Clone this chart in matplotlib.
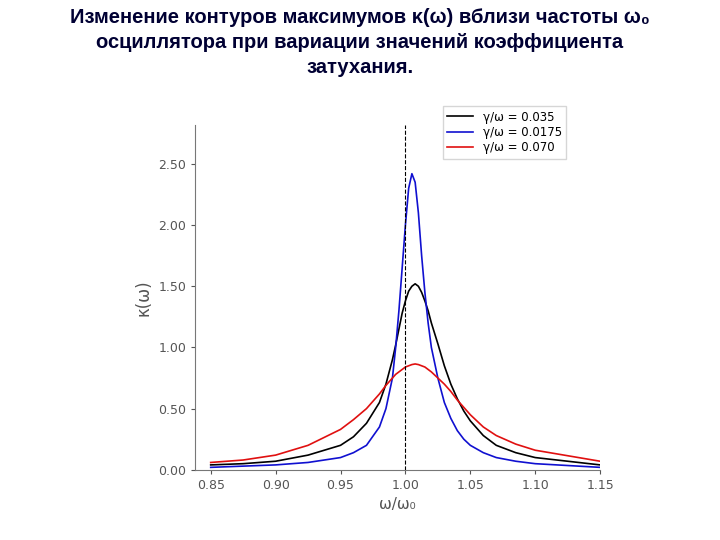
import matplotlib
matplotlib.use("Agg")
import matplotlib.pyplot as plt

# values
freq = [0.85, 0.875, 0.90, 0.925, 0.95, 0.96, 0.97, 0.98, 0.985, 0.99, 0.9925,
        0.995, 0.9975, 1.0, 1.0025, 1.005, 1.0075, 1.01, 1.0125, 1.015, 1.0175,
        1.02, 1.025, 1.03, 1.035, 1.04, 1.045, 1.05, 1.06, 1.07, 1.085, 1.10, 1.15]
kappa_035 = [0.04, 0.05, 0.07, 0.12, 0.20, 0.27, 0.38, 0.55, 0.70, 0.90, 1.02,
             1.15, 1.28, 1.38, 1.46, 1.50, 1.52, 1.50, 1.45, 1.38, 1.30,
             1.20, 1.03, 0.85, 0.70, 0.58, 0.48, 0.40, 0.28, 0.20, 0.14, 0.10, 0.04]
kappa_0175 = [0.02, 0.03, 0.04, 0.06, 0.10, 0.14, 0.20, 0.35, 0.50, 0.75, 1.00,
              1.30, 1.65, 2.00, 2.30, 2.42, 2.35, 2.10, 1.75, 1.45, 1.20,
              1.00, 0.75, 0.55, 0.42, 0.32, 0.25, 0.20, 0.14, 0.10, 0.07, 0.05, 0.02]
kappa_070 = [0.06, 0.08, 0.12, 0.20, 0.33, 0.41, 0.50, 0.62, 0.69, 0.75, 0.78,
             0.80, 0.82, 0.84, 0.85, 0.86, 0.865, 0.86, 0.85, 0.84, 0.82,
             0.80, 0.75, 0.70, 0.64, 0.57, 0.51, 0.45, 0.35, 0.28, 0.21, 0.16, 0.07]
xticks = [0.85, 0.90, 0.95, 1.00, 1.05, 1.10, 1.15]
yticks = [0.0, 0.5, 1.0, 1.5, 2.0, 2.5]

fig = plt.figure(figsize=(7.2, 5.4), dpi=100)
fig.text(0.5, 0.985,
         "Изменение контуров максимумов \u03ba(\u03c9) вблизи частоты \u03c9\u2080\n"
         "осциллятора при вариации значений коэффициента\nзатухания.",
         ha="center", va="top", fontsize=14.5, fontweight="bold",
         family="Liberation Sans", linespacing=1.4, color="#000033")

ax = fig.add_axes([0.271, 0.13, 0.5625, 0.639])
ax.plot(freq, kappa_035, color="black", lw=1.2, label="\u03b3/\u03c9 = 0.035")
ax.plot(freq, kappa_0175, color="#1010d0", lw=1.2, label="\u03b3/\u03c9 = 0.0175")
ax.plot(freq, kappa_070, color="#e01010", lw=1.2, label="\u03b3/\u03c9 = 0.070")
ax.axvline(1.0, color="black", ls="--", lw=0.8)

ax.set_xlim(0.838, 1.15)
ax.set_ylim(0, 2.82)
ax.set_xticks(xticks)
ax.set_xticklabels([f"{v:.2f}" for v in xticks])
ax.set_yticks(yticks)
ax.set_yticklabels([f"{v:.2f}" for v in yticks])
ax.tick_params(labelsize=9, colors="#555555", length=3)
for s in ("top", "right"):
    ax.spines[s].set_visible(False)
for s in ("left", "bottom"):
    ax.spines[s].set_color("#777777")
ax.set_xlabel("\u03c9/\u03c9\u2080", fontsize=11, color="#555555")
ax.set_ylabel("\u03ba(\u03c9)", fontsize=12, color="#555555")

leg = fig.legend(loc="upper right", bbox_to_anchor=(0.795, 0.815), fontsize=8.5,
                 frameon=True, fancybox=False, handlelength=2.2, borderpad=0.4,
                 labelspacing=0.2)
leg.get_frame().set_edgecolor("#cccccc")

fig.savefig("out.png", dpi=100)
